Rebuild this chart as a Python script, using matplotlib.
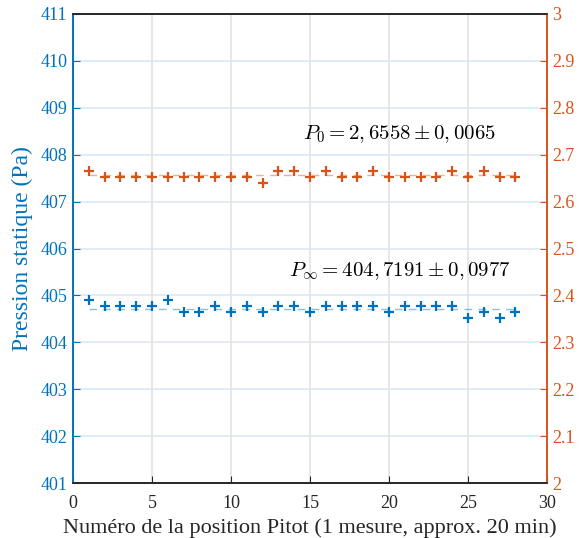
import matplotlib
matplotlib.use("Agg")
import matplotlib.pyplot as plt
import numpy as np
from matplotlib.ticker import FuncFormatter

plt.rcParams['font.family'] = ['Liberation Serif', 'DejaVu Serif']
plt.rcParams['mathtext.fontset'] = 'cm'

positions = list(range(1, 29))
p_inf = [404.90, 404.77, 404.77, 404.77, 404.77, 404.90, 404.64, 404.64, 404.77, 404.64,
         404.77, 404.64, 404.77, 404.77, 404.64, 404.77, 404.77, 404.77, 404.77, 404.64,
         404.77, 404.77, 404.77, 404.77, 404.51, 404.64, 404.51, 404.64]
p_0 = [2.666, 2.653, 2.653, 2.653, 2.653, 2.653, 2.653, 2.653, 2.653, 2.653,
       2.653, 2.640, 2.666, 2.666, 2.653, 2.666, 2.653, 2.653, 2.666, 2.653,
       2.653, 2.653, 2.653, 2.666, 2.653, 2.666, 2.653, 2.653]
p_inf_mean = 404.7191
p_0_mean = 2.6558
label_inf = r'$P_\infty = 404,7191 \pm 0,0977$'
label_0 = r'$P_0 = 2,6558 \pm 0,0065$'
left_ticks = list(range(401, 412))
right_ticks = [2, 2.1, 2.2, 2.3, 2.4, 2.5, 2.6, 2.7, 2.8, 2.9, 3]
x_ticks = [0, 5, 10, 15, 20, 25, 30]

blue = '#0072BD'
orange = '#D95319'

fig = plt.figure(figsize=(5.83, 5.38), dpi=100)
ax = fig.add_axes([73/583, 1-483/538, (547-73)/583, (483-14)/538])
ax2 = ax.twinx()

ax.set_xlim(0, 30)
ax.set_ylim(401, 411)
ax2.set_ylim(2, 3)

# grids
for t in left_ticks[1:-1]:
    ax.axhline(t, color='#dde9f5', lw=1.2, zorder=0)
for t in x_ticks[1:-1]:
    ax.axvline(t, color='#e3e3e3', lw=1.2, zorder=0)

ax.plot([positions[0], positions[-1]], [p_inf_mean, p_inf_mean], ls=(0, (5.5, 4.5)),
        color=blue, alpha=0.45, lw=1.0, zorder=2)
ax.plot(positions, p_inf, ls='none', marker='+', ms=7, mew=1.6, color=blue, zorder=3)
ax2.plot([positions[0], positions[-1]], [p_0_mean, p_0_mean], ls=(0, (5.5, 4.5)),
         color=orange, alpha=0.45, lw=1.0, zorder=2)
ax2.plot(positions, p_0, ls='none', marker='+', ms=7, mew=1.6, color=orange, zorder=3)

ax.text(13.65, 405.52, label_inf, fontsize=15, ha='left', va='center', color='black')
ax.text(14.55, 408.45, label_0, fontsize=15, ha='left', va='center', color='black')

ax.set_xticks(x_ticks)
ax.set_yticks(left_ticks)
ax2.set_yticks(right_ticks)
ax2.yaxis.set_major_formatter(FuncFormatter(lambda v, p: ('%g' % v)))

ax.tick_params(axis='x', direction='in', length=5, colors='#262626', labelsize=13, pad=9)
ax.tick_params(axis='y', direction='in', length=5, colors=blue, labelsize=13, pad=4)
ax2.tick_params(axis='y', direction='in', length=5, colors=orange, labelsize=13, pad=4)

for a in (ax, ax2):
    a.spines['top'].set_color('#262626')
    a.spines['bottom'].set_color('#262626')
    a.spines['left'].set_color(blue)
    a.spines['right'].set_color(orange)
    for s in a.spines.values():
        s.set_linewidth(1.2)

ax.set_xlabel('Numéro de la position Pitot (1 mesure, approx. 20 min)', fontsize=16, color='#262626', labelpad=4)
ax.set_ylabel('Pression statique (Pa)', fontsize=17, color=blue, labelpad=5)

fig.savefig('out.png', dpi=100)
